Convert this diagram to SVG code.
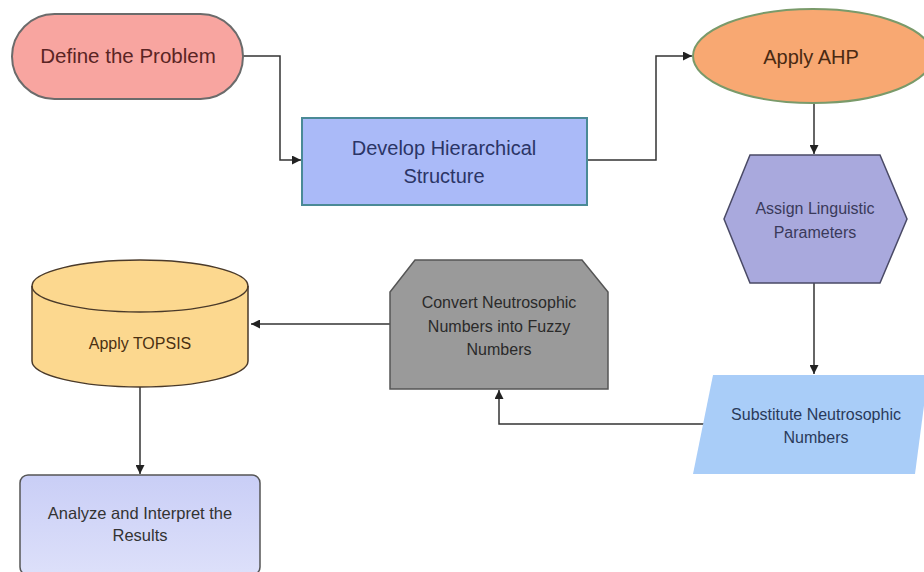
<svg xmlns="http://www.w3.org/2000/svg" width="924" height="572" viewBox="0 0 924 572">
<defs>
<marker id="ah" viewBox="0 0 10 10" refX="10" refY="5" markerWidth="9" markerHeight="9" markerUnits="userSpaceOnUse" orient="auto">
<path d="M0,0 L10,5 L0,10 Z" fill="#222"/>
</marker>
<linearGradient id="gAn" x1="0" y1="0" x2="0" y2="1">
<stop offset="0" stop-color="#c9cef6"/><stop offset="1" stop-color="#dde0fa"/>
</linearGradient>
</defs>
<style>
text{font-family:"Liberation Sans",Arial,sans-serif;text-anchor:middle}
.c{fill:none;stroke:#333;stroke-width:1.5}
</style>
<rect width="924" height="572" fill="#fff"/>
<g id="connectors">
<path class="c" d="M243,56 H280 V160 H301" marker-end="url(#ah)"/>
<path class="c" d="M587,160 H656 V56 H692" marker-end="url(#ah)"/>
<path class="c" d="M814,103 V154" marker-end="url(#ah)"/>
<path class="c" d="M814,283 V374" marker-end="url(#ah)"/>
<path class="c" d="M704,424 H499 V390" marker-end="url(#ah)"/>
<path class="c" d="M390,324 H251" marker-end="url(#ah)"/>
<path class="c" d="M140,387 V474" marker-end="url(#ah)"/>
</g>
<g id="define">
<rect x="12" y="14" width="231" height="85" rx="42.5" fill="#f8a5a0" stroke="#6b6b6b" stroke-width="2"/>
<text x="128" y="63" font-size="20.5" fill="#5a2424">Define the Problem</text>
</g>
<g id="develop">
<rect x="302" y="118" width="285" height="87" fill="#aabaf8" stroke="#4a8a96" stroke-width="2"/>
<text x="444" y="155" font-size="20" fill="#2b3566">Develop Hierarchical</text>
<text x="444" y="183" font-size="20" fill="#2b3566">Structure</text>
</g>
<g id="ahp">
<ellipse cx="813" cy="56" rx="120" ry="47" fill="#f8a872" stroke="#7a9a6a" stroke-width="2"/>
<text x="811" y="64" font-size="20" fill="#4a2a12">Apply AHP</text>
</g>
<g id="assign">
<polygon points="750,155 880,155 907,219 880,283 750,283 724,219" fill="#a9a9dd" stroke="#4a4a66" stroke-width="1.5"/>
<text x="815" y="214" font-size="16" fill="#3a3a5a">Assign Linguistic</text>
<text x="815" y="238" font-size="16" fill="#3a3a5a">Parameters</text>
</g>
<g id="substitute">
<polygon points="713,375 928,375 915,474 693,474" fill="#a9cdf8"/>
<text x="816" y="420" font-size="16" fill="#2a3a5a">Substitute Neutrosophic</text>
<text x="816" y="443" font-size="16" fill="#2a3a5a">Numbers</text>
</g>
<g id="convert">
<polygon points="415,260 582,260 608,292 608,389 390,389 390,292" fill="#9a9a9a" stroke="#555" stroke-width="1.5"/>
<text x="499" y="308" font-size="16" fill="#2a2a2a">Convert Neutrosophic</text>
<text x="499" y="332" font-size="16" fill="#2a2a2a">Numbers into Fuzzy</text>
<text x="499" y="355" font-size="16" fill="#2a2a2a">Numbers</text>
</g>
<g id="topsis">
<path d="M32,286 V361 A108,26 0 0 0 248,361 V286 A108,26 0 0 0 32,286 Z" fill="#fcd88f" stroke="#4a3a2a" stroke-width="1.5"/>
<path d="M32,286 A108,26 0 0 0 248,286" fill="none" stroke="#4a3a2a" stroke-width="1.5"/>
<text x="140" y="349" font-size="16" fill="#4a3012">Apply TOPSIS</text>
</g>
<g id="analyze">
<rect x="20" y="475" width="240" height="100" rx="8" fill="url(#gAn)" stroke="#555" stroke-width="1.5"/>
<text x="140" y="519" font-size="16.5" fill="#333">Analyze and Interpret the</text>
<text x="140" y="541" font-size="16.5" fill="#333">Results</text>
</g>
</svg>
